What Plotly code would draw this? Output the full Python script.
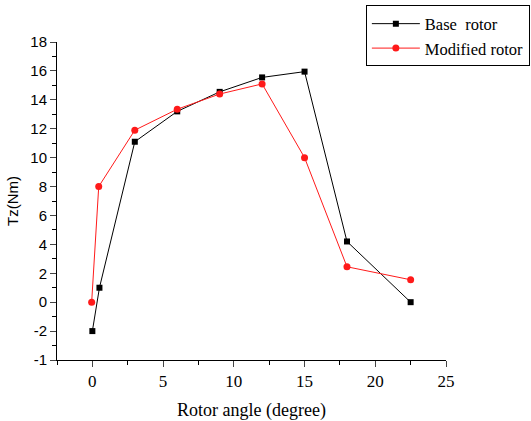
import plotly.graph_objects as go

angle_base = [0, 0.5, 3, 6, 9, 12, 15, 18, 22.5]
tz_base = [-2.0, 1.0, 11.1, 13.2, 14.55, 15.55, 15.95, 4.2, 0.0]
angle_mod = [-0.05, 0.45, 3, 6, 9, 12, 15, 18, 22.5]
tz_mod = [0.0, 8.0, 11.9, 13.35, 14.4, 15.1, 10.0, 2.45, 1.55]

y_tickvals = [-4, -2, 0, 2, 4, 6, 8, 10, 12, 14, 16, 18]
y_ticktext = ["-1", "-2", "0", "2", "4", "6", "8", "10", "12", "14", "16", "18"]
x_tickvals = [0, 5, 10, 15, 20, 25]

fig = go.Figure()
fig.add_trace(go.Scatter(x=angle_base, y=tz_base, mode="lines+markers", name="Base  rotor",
                         line=dict(color="black", width=1),
                         marker=dict(symbol="square", size=6, color="black")))
fig.add_trace(go.Scatter(x=angle_mod, y=tz_mod, mode="lines+markers", name="Modified rotor",
                         line=dict(color="#ff1a1a", width=1),
                         marker=dict(symbol="circle", size=7, color="#ff1a1a")))

fig.update_layout(
    width=531, height=421,
    margin=dict(l=57, r=85, t=42, b=61, autoexpand=False),
    paper_bgcolor="white", plot_bgcolor="white",
    showlegend=True,
    legend=dict(x=0.794, y=1.115, xanchor="left", yanchor="top",
                bordercolor="black", borderwidth=1, bgcolor="white",
                font=dict(family="Liberation Serif", size=16.5, color="black"),
                tracegroupgap=0, itemwidth=48),
)
fig.update_xaxes(range=[-2.5, 25], tickvals=x_tickvals, ticks="outside", ticklen=6,
                 showline=True, linecolor="black", linewidth=1, showgrid=False, zeroline=False,
                 automargin=False,
                 minor=dict(dtick=2.5, ticks="outside", ticklen=4, tickcolor="black"),
                 tickfont=dict(family="Liberation Serif", size=17, color="black"),
                 title=dict(text="Rotor angle (degree)", standoff=12,
                            font=dict(family="Liberation Serif", size=18, color="black")))
fig.update_yaxes(range=[-4, 18], tickvals=y_tickvals, ticktext=y_ticktext, ticks="outside", ticklen=6,
                 showline=True, linecolor="black", linewidth=1, showgrid=False, zeroline=False,
                 automargin=False,
                 minor=dict(dtick=1, ticks="outside", ticklen=4, tickcolor="black"),
                 tickfont=dict(family="Liberation Sans", size=15, color="black"),
                 title=dict(text="Tz(Nm)", standoff=8,
                            font=dict(family="Liberation Sans", size=15, color="black")))

fig.write_html("out.html")
